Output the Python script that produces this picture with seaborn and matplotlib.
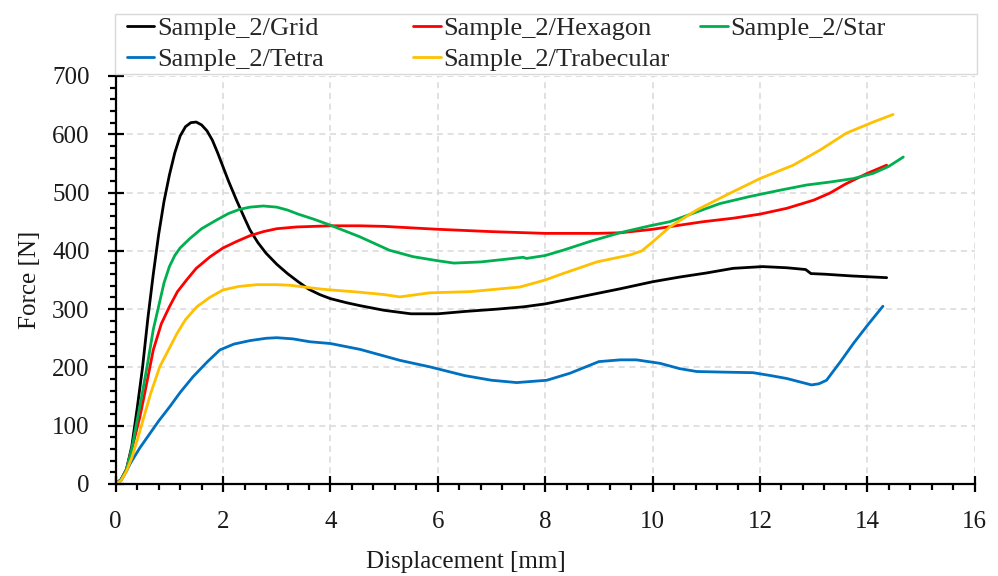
import numpy as np
import pandas as pd
import matplotlib
matplotlib.use("Agg")
import matplotlib.pyplot as plt
from matplotlib.patches import Rectangle
from matplotlib.ticker import MultipleLocator
import seaborn as sns

# ---------------- data ----------------
grid_x = [0, 0.1, 0.2, 0.3, 0.4, 0.5, 0.6, 0.7, 0.8, 0.9, 1.0, 1.1, 1.2, 1.3, 1.4, 1.5,
          1.6, 1.7, 1.8, 1.9, 2.0, 2.1, 2.25, 2.4, 2.5, 2.65, 2.8, 3.0, 3.2, 3.4, 3.6, 3.8,
          4.0, 4.3, 4.55, 5.0, 5.5, 6.0, 6.5, 7.1, 7.6, 8.0, 8.65, 9.4, 10.0, 10.5,
          11.0, 11.5, 12.05, 12.5, 12.85, 12.95, 13.2, 13.7, 14.36]
grid_y = [0, 8, 25, 65, 130, 200, 285, 360, 428, 485, 530, 568, 597, 613, 620, 621,
          616, 606, 590, 568, 544, 520, 487, 456, 436, 414, 396, 377, 361, 347, 334, 325,
          318, 311, 306, 298, 292, 292, 296, 300, 304, 309, 321, 335, 347, 355,
          362, 370, 373, 371, 368, 361, 360, 357, 354]

hex_x = [0, 0.1, 0.2, 0.3, 0.45, 0.55, 0.7, 0.85, 1.0, 1.15, 1.32, 1.5, 1.76, 2.0, 2.25,
         2.5, 2.75, 3.0, 3.37, 4.0, 4.55, 5.0, 6.0, 7.0, 8.0, 8.96, 9.4, 10.0, 10.5, 10.94,
         11.5, 12.0, 12.5, 13.0, 13.3, 13.6, 14.0, 14.36]
hex_y = [0, 7, 25, 60, 115, 160, 230, 275, 304, 330, 350, 370, 390, 405, 416,
         426, 433, 438, 441, 443, 443, 442, 437, 433, 430, 430, 431, 437, 444, 450,
         456, 463, 473, 487, 499, 515, 533, 547]

star_x = [0, 0.1, 0.2, 0.3, 0.4, 0.5, 0.6, 0.7, 0.8, 0.9, 1.0, 1.1, 1.2, 1.38, 1.6, 1.88,
          2.1, 2.3, 2.5, 2.75, 3.0, 3.2, 3.4, 3.7, 4.0, 4.55, 5.1, 5.54, 6.0, 6.3, 6.8,
          7.3, 7.59, 7.65, 8.0, 8.33, 8.83, 9.39, 9.95, 10.32, 10.8, 11.25, 11.8, 12.37,
          12.87, 13.3, 13.74, 14.11, 14.4, 14.67]
star_y = [0, 7, 25, 60, 110, 158, 210, 265, 305, 345, 373, 392, 405, 421, 438, 453,
          464, 471, 475, 477, 475, 470, 463, 454, 444, 424, 401, 390, 383, 379, 381,
          386, 389, 387, 392, 401, 416, 431, 443, 450, 466, 481, 493, 504,
          513, 518, 524, 533, 545, 561]

tetra_x = [0, 0.1, 0.2, 0.27, 0.45, 0.64, 0.8, 1.01, 1.2, 1.44, 1.7, 1.94, 2.2, 2.5, 2.8,
           3.0, 3.3, 3.62, 4.0, 4.55, 5.3, 5.85, 6.5, 7.0, 7.47, 8.03, 8.46, 9.0, 9.4,
           9.7, 10.14, 10.5, 10.82, 11.3, 11.87, 12.2, 12.5, 12.96, 13.1, 13.24, 13.5,
           13.74, 14.0, 14.29]
tetra_y = [0, 6, 22, 35, 62, 87, 108, 133, 157, 184, 209, 230, 240, 246, 250,
           251, 249, 244, 241, 231, 212, 201, 186, 178, 174, 178, 190, 210, 213,
           213, 207, 198, 193, 192, 191, 186, 181, 170, 172, 178, 210,
           241, 272, 305]

trab_x = [0, 0.1, 0.2, 0.3, 0.4, 0.51, 0.65, 0.82, 1.0, 1.14, 1.3, 1.51, 1.75, 2.0, 2.3,
          2.63, 3.0, 3.25, 3.5, 3.87, 4.55, 5.0, 5.29, 5.85, 6.6, 7.53, 8.0, 8.33, 8.96,
          9.58, 9.8, 10.01, 10.32, 10.82, 11.4, 12.0, 12.62, 13.12, 13.61, 14.11, 14.48]
trab_y = [0, 6, 22, 45, 75, 110, 155, 201, 233, 258, 282, 304, 320, 333, 339,
          342, 342, 341, 338, 334, 329, 325, 321, 328, 330, 338, 350, 361, 381,
          393, 400, 416, 441, 470, 497, 524, 547, 573, 602, 621, 634]

series_names = ["Sample_2/Grid", "Sample_2/Hexagon", "Sample_2/Star",
                "Sample_2/Tetra", "Sample_2/Trabecular"]
series_x = [grid_x, hex_x, star_x, tetra_x, trab_x]
series_y = [grid_y, hex_y, star_y, tetra_y, trab_y]
series_colors = ["#000000", "#FF0000", "#00B050", "#0070C0", "#FFC000"]

x_ticks = [0, 2, 4, 6, 8, 10, 12, 14, 16]
y_ticks = [0, 100, 200, 300, 400, 500, 600, 700]

# ---------------- build long table ----------------
frames = []
for name, xs, ys in zip(series_names, series_x, series_y):
    frames.append(pd.DataFrame({"Displacement": xs, "Force": ys, "Series": name}))
df = pd.concat(frames, ignore_index=True)

sns.set_theme(style="white")
plt.rcParams["font.family"] = ["Liberation Serif", "DejaVu Serif"]

fig = plt.figure(figsize=(9.98, 5.76), dpi=100)
ax = fig.add_axes([115.7 / 998, 1 - 484 / 576, (974.7 - 115.7) / 998, (484 - 76) / 576])

sns.lineplot(data=df, x="Displacement", y="Force", hue="Series",
             hue_order=series_names, palette=series_colors,
             estimator=None, sort=False, linewidth=2.0, ax=ax, zorder=3)

handles, labels = ax.get_legend_handles_labels()
if ax.get_legend() is not None:
    ax.get_legend().remove()
for line in ax.get_lines():
    line.set_solid_joinstyle("round")
    line.set_solid_capstyle("round")

ax.set_xlim(0, 16)
ax.set_ylim(0, 700)
ax.set_xticks(x_ticks)
ax.set_yticks(y_ticks)
ax.xaxis.set_minor_locator(MultipleLocator(0.4))
ax.yaxis.set_minor_locator(MultipleLocator(20))

for s in ["top", "right"]:
    ax.spines[s].set_visible(False)
for s in ["left", "bottom"]:
    ax.spines[s].set_color("black")
    ax.spines[s].set_linewidth(1.6)
    ax.spines[s].set_zorder(4)

ax.tick_params(axis="both", which="major", direction="inout", length=11.5, width=1.6,
               color="black", labelsize=18, labelcolor="#1a1a1a")
ax.tick_params(axis="y", which="major", pad=13)
ax.tick_params(axis="x", which="major", pad=14)
ax.tick_params(axis="both", which="minor", direction="out", length=4, width=1.6, color="black")
ax.tick_params(axis="both", which="both", left=True, bottom=True)

ax.grid(True, which="major", color="#D9D9D9", linestyle=(0, (4, 3)), linewidth=1.1, zorder=0)
ax.set_axisbelow(True)

ax.set_xlabel("Displacement [mm]", fontsize=18, color="#1a1a1a", labelpad=13, x=0.408)
ax.set_ylabel("Force [N]", fontsize=18, color="#1a1a1a", labelpad=8)

# legend frame spanning the plot width above the axes
fig.add_artist(Rectangle((115 / 998, 1 - 74 / 576), (977 - 115) / 998, 60 / 576,
                         transform=fig.transFigure, facecolor="white",
                         edgecolor="#D9D9D9", linewidth=1.0, zorder=5))

hmap = dict(zip(labels, handles))
columns = [(["Sample_2/Grid", "Sample_2/Tetra"], 126.7),
           (["Sample_2/Hexagon", "Sample_2/Trabecular"], 413.3),
           (["Sample_2/Star"], 700.0)]
for labs, xpx in columns:
    leg = fig.legend([hmap[l] for l in labs], labs, loc="upper left",
                     bbox_to_anchor=(xpx / 998, 1 - 17 / 576),
                     bbox_transform=fig.transFigure, frameon=False,
                     prop={"family": ["Liberation Serif"], "size": 19},
                     handlelength=1.05, handletextpad=0.1, labelspacing=0.28,
                     borderpad=0.0, borderaxespad=0.0)
    leg.set_zorder(6)
    for line in leg.get_lines():
        line.set_linewidth(2.0)

fig.savefig("out.png", dpi=100)
